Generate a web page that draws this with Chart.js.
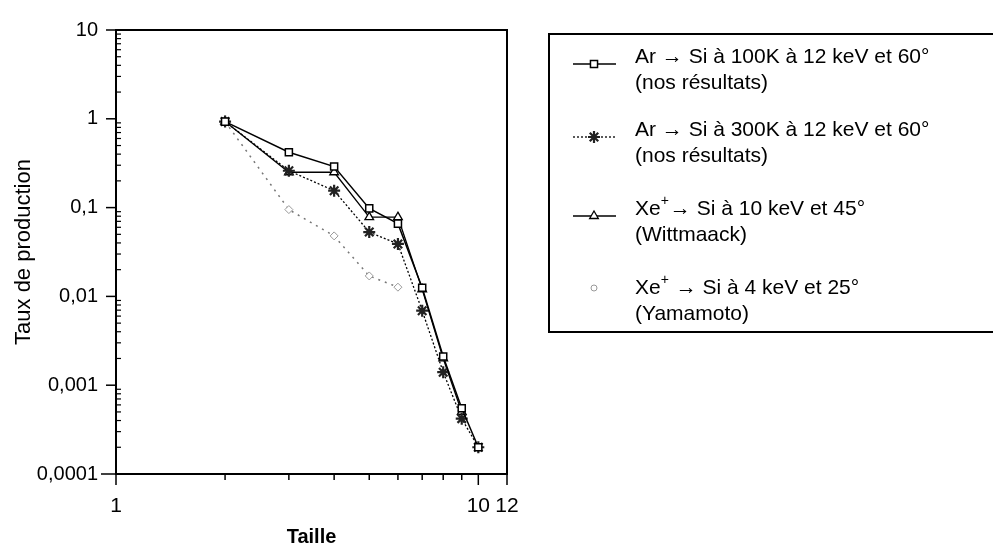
<!DOCTYPE html>
<html>
<head>
<meta charset="utf-8">
<script src="https://cdn.jsdelivr.net/npm/chart.js@4.4.1/dist/chart.umd.min.js"></script>
<style>
html, body { margin: 0; padding: 0; background: #fff; }
</style>
</head>
<body>
<canvas id="tauxChart" width="993" height="544"></canvas>
<script>
// tailles des agregats
var tailles = [2, 3, 4, 5, 6, 7, 8, 9, 10];

// taux de production
var ar100K    = [0.93, 0.42, 0.29, 0.098, 0.066, 0.0125, 0.0021, 0.00055, 0.0002];
var ar300K    = [0.93, 0.26, 0.155, 0.053, 0.039, 0.0069, 0.0014, 0.00042, 0.0002];
var wittmaack = [0.93, 0.25, 0.25, 0.078, 0.078, 0.012, 0.002, 0.0005, null];
var yamamoto  = [0.93, 0.095, 0.048, 0.017, 0.0127, null, null, null, null];

// textes de la legende (2 lignes chacun)
var legendText = [
    ['Ar \u2192 Si \u00e0 100K \u00e0 12 keV et 60\u00b0', '(nos r\u00e9sultats)'],
    ['Ar \u2192 Si \u00e0 300K \u00e0 12 keV et 60\u00b0', '(nos r\u00e9sultats)'],
    ['Xe\u207a\u2192 Si \u00e0 10 keV et 45\u00b0', '(Wittmaack)'],
    ['Xe\u207a \u2192 Si \u00e0 4 keV et 25\u00b0', '(Yamamoto)']
];

// graduations
var xTicks = [1, 2, 3, 4, 5, 6, 7, 8, 9, 10, 12];
var xTickLabels = ['1', '', '', '', '', '', '', '', '', '10', '12'];
var yTicks = [0.0001, 0.001, 0.01, 0.1, 1, 10];
var yTickLabels = ['0,0001', '0,001', '0,01', '0,1', '1', '10'];

var FONT = "'Liberation Sans', Arial, Helvetica, sans-serif";

function points(values) {
    return tailles.map(function (t, i) {
        return { x: t, y: values[i] };
    });
}

//frame + ticks
var framePlugin = {
    id: 'frame',
    afterDraw: function (chart) {
        var ctx = chart.ctx;
        var a = chart.chartArea;
        var xs = chart.scales.x;
        var ys = chart.scales.y;
        ctx.save();
        ctx.strokeStyle = '#000';
        ctx.lineWidth = 2;
        ctx.beginPath();
        ctx.moveTo(a.left, a.top);
        ctx.lineTo(a.right, a.top);
        ctx.lineTo(a.right, a.bottom);
        ctx.stroke();

        ctx.lineWidth = 1.5;
        // x ticks, down
        xTicks.forEach(function (v, i) {
            var px = xs.getPixelForValue(v);
            var len = xTickLabels[i] ? 11 : 6;
            ctx.beginPath();
            ctx.moveTo(px, a.bottom);
            ctx.lineTo(px, a.bottom + len);
            ctx.stroke();
        });
        // y major, outside
        yTicks.forEach(function (v, i) {
            var py = ys.getPixelForValue(v);
            var len = i == 0 ? 15 : 10;
            ctx.beginPath();
            ctx.moveTo(a.left - len, py);
            ctx.lineTo(a.left, py);
            ctx.stroke();
        });
        // y minor, inside
        ctx.lineWidth = 1.2;
        for (var d = 0; d < yTicks.length - 1; d++) {
            for (var k = 2; k <= 9; k++) {
                var py = ys.getPixelForValue(yTicks[d] * k);
                ctx.beginPath();
                ctx.moveTo(a.left, py);
                ctx.lineTo(a.left + 5, py);
                ctx.stroke();
            }
        }
        ctx.restore();
    }
};

//legend box on the right
var legendPlugin = {
    id: 'boxLegend',
    afterDraw: function (chart) {
        var ctx = chart.ctx;
        var sets = chart.data.datasets;
        var rowY = [57, 130, 209, 288];
        var textX = 635;
        ctx.save();
        ctx.strokeStyle = '#000';
        ctx.lineWidth = 2;
        ctx.strokeRect(549, 34, 460, 298);

        sets.forEach(function (ds, i) {
            var y0 = rowY[i];
            var sy = i < 3 ? y0 + 7 : y0;
            if (i < 3) {
                ctx.save();
                ctx.strokeStyle = ds.borderColor;
                ctx.lineWidth = ds.borderWidth;
                ctx.setLineDash(ds.borderDash || []);
                ctx.beginPath();
                ctx.moveTo(573, sy);
                ctx.lineTo(616, sy);
                ctx.stroke();
                ctx.restore();
            }
            ctx.save();
            ctx.strokeStyle = ds.pointBorderColor;
            ctx.fillStyle = ds.pointBackgroundColor;
            ctx.lineWidth = ds.pointBorderWidth;
            Chart.helpers.drawPoint(ctx, {
                pointStyle: i == 3 ? 'circle' : ds.pointStyle,
                rotation: 0,
                radius: i == 3 ? 3 : ds.pointRadius,
                borderWidth: ds.pointBorderWidth
            }, 594, sy);
            ctx.restore();

            // text
            ctx.fillStyle = '#000';
            ctx.textBaseline = 'middle';
            ctx.textAlign = 'left';
            var lines = legendText[i];
            var parts = lines[0].split('\u207a');
            var x = textX;
            ctx.font = '21px ' + FONT;
            ctx.fillText(parts[0], x, y0);
            if (parts.length > 1) {
                x += ctx.measureText(parts[0]).width;
                ctx.font = '14px ' + FONT;
                ctx.fillText('+', x, y0 - 8);
                x += ctx.measureText('+').width + 1;
                ctx.font = '21px ' + FONT;
                ctx.fillText(parts[1], x, y0);
            }
            ctx.fillText(lines[1], textX, y0 + 26);
        });
        ctx.restore();
    }
};

var ctx = document.getElementById('tauxChart');
var tauxChart = new Chart(ctx, {
    type: 'line',
    data: {
        datasets: [{
            label: legendText[0].join(' '),
            data: points(ar100K),
            borderColor: '#000',
            borderWidth: 1.5,
            pointStyle: 'rect',
            pointRadius: 5,
            pointBorderWidth: 1.5,
            pointBorderColor: '#000',
            pointBackgroundColor: '#fff'
        }, {
            label: legendText[1].join(' '),
            data: points(ar300K),
            borderColor: '#000',
            borderWidth: 1.3,
            borderDash: [2, 2],
            pointStyle: 'star',
            pointRadius: 6,
            pointBorderWidth: 2.2,
            pointBorderColor: '#222',
            pointBackgroundColor: '#222'
        }, {
            label: legendText[2].join(' '),
            data: points(wittmaack),
            borderColor: '#000',
            borderWidth: 1.3,
            pointStyle: 'triangle',
            pointRadius: 5,
            pointBorderWidth: 1.3,
            pointBorderColor: '#000',
            pointBackgroundColor: '#fff'
        }, {
            label: legendText[3].join(' '),
            data: points(yamamoto),
            borderColor: '#777',
            borderWidth: 1.5,
            borderDash: [2, 5],
            pointStyle: 'rectRot',
            pointRadius: 4,
            pointBorderWidth: 1,
            pointBorderColor: '#999',
            pointBackgroundColor: '#fff'
        }]
    },
    options: {
        responsive: false,
        animation: false,
        spanGaps: false,
        layout: { padding: { top: 22, right: 486, left: 0, bottom: 0 } },
        plugins: {
            legend: { display: false },
            tooltip: { enabled: false }
        },
        scales: {
            x: {
                type: 'logarithmic',
                min: 1,
                max: 12,
                grid: { display: false, drawTicks: false },
                border: { display: true, color: '#000', width: 2 },
                afterBuildTicks: function (scale) {
                    scale.ticks = xTicks.map(function (v) { return { value: v }; });
                },
                afterFit: function (scale) {
                    scale.height = 70;
                    scale.paddingLeft = 0;
                    scale.paddingRight = 0;
                },
                ticks: {
                    autoSkip: false,
                    maxRotation: 0,
                    padding: 20,
                    color: '#000',
                    font: { family: FONT, size: 21 },
                    callback: function (value, index) {
                        return xTickLabels[index];
                    }
                },
                title: {
                    display: true,
                    text: 'Taille',
                    color: '#000',
                    font: { family: FONT, size: 20, weight: 'bold', lineHeight: 0.7 },
                    padding: 0
                }
            },
            y: {
                type: 'logarithmic',
                min: 0.0001,
                max: 10,
                grid: { display: false, drawTicks: false },
                border: { display: true, color: '#000', width: 2 },
                afterBuildTicks: function (scale) {
                    scale.ticks = yTicks.map(function (v) { return { value: v }; });
                },
                afterFit: function (scale) {
                    scale.width = 116;
                },
                ticks: {
                    autoSkip: false,
                    padding: 18,
                    color: '#000',
                    font: { family: FONT, size: 20 },
                    callback: function (value, index) {
                        return yTickLabels[index];
                    }
                },
                title: {
                    display: true,
                    text: 'Taux de production',
                    color: '#000',
                    font: { family: FONT, size: 22 },
                    padding: { top: 11, bottom: 0 }
                }
            }
        }
    },
    plugins: [framePlugin, legendPlugin]
});
</script>
</body>
</html>
